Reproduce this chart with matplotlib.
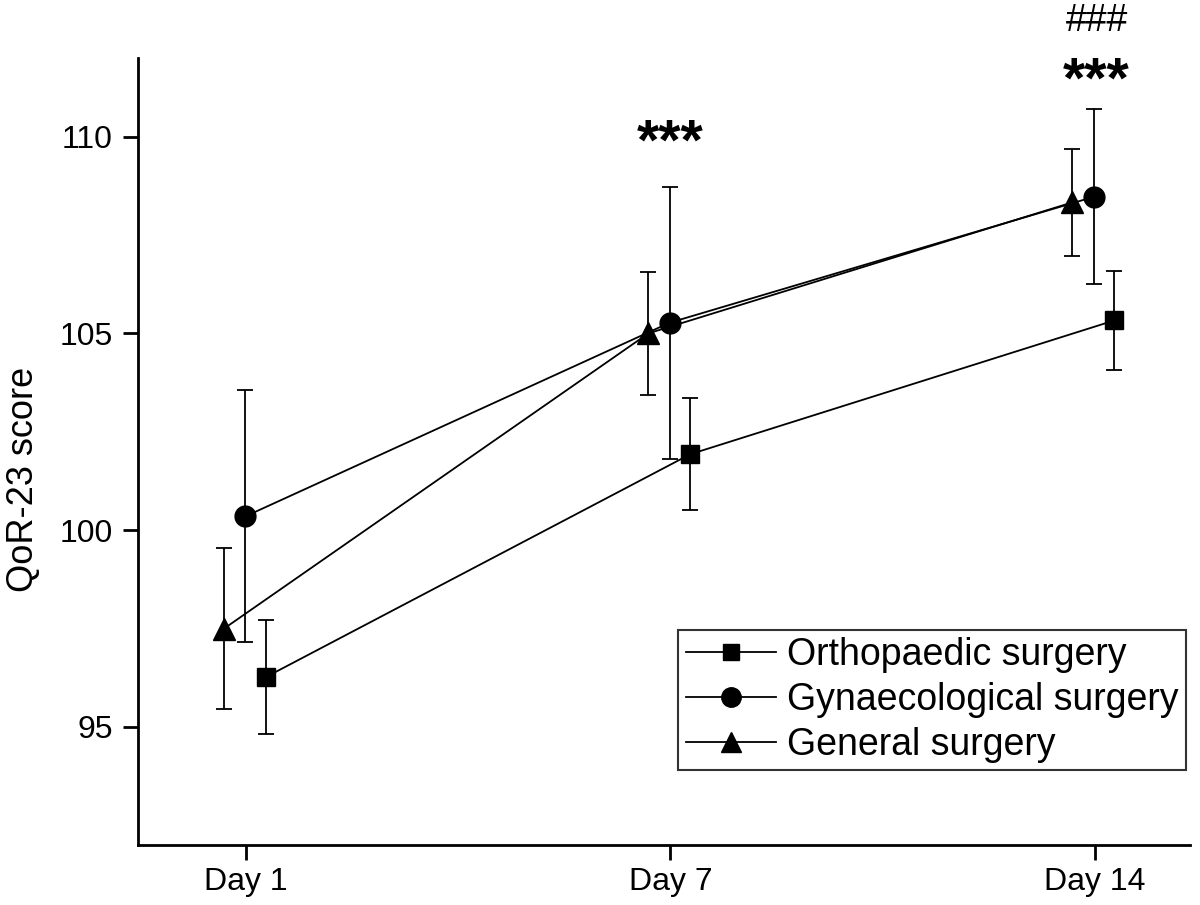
import matplotlib.pyplot as plt
from matplotlib.lines import Line2D
import numpy as np

plt.rcParams['font.family'] = ['Liberation Sans', 'DejaVu Sans']

# Data
days = ["Day 1", "Day 7", "Day 14"]

ortho_mean = [96.27, 101.93, 105.33]
ortho_err = [1.45, 1.43, 1.25]

gyn_mean = [100.35, 105.27, 108.47]
gyn_err = [3.2, 3.46, 2.22]

gen_mean = [97.5, 105.0, 108.33]
gen_err = [2.04, 1.56, 1.36]

labels = ["Orthopaedic surgery", "Gynaecological surgery", "General surgery"]

x = np.arange(len(days))

fig = plt.figure(figsize=(12, 9.05), dpi=100)
ax = fig.add_axes([0.115, 0.0663, 0.877, 0.8697])

common = dict(color='black', linewidth=1.3, elinewidth=1.3, capsize=5.5, capthick=1.3)

ax.errorbar(x + 0.047, ortho_mean, yerr=ortho_err, marker='s', markersize=13, **common)
ax.errorbar(x - 0.002, gyn_mean, yerr=gyn_err, marker='o', markersize=15, **common)
ax.errorbar(x - 0.052, gen_mean, yerr=gen_err, marker='^', markersize=16, **common)

# significance marks
ax.text(1, 109.41, "***", ha='center', va='baseline', fontsize=41, fontweight='bold')
ax.text(2.005, 110.99, "***", ha='center', va='baseline', fontsize=41, fontweight='bold')
ax.text(2.005, 112.69, "###", ha='center', va='baseline', fontsize=27, clip_on=False)

ax.set_xlim(-0.255, 2.226)
ax.set_ylim(92, 112)
ax.set_xticks(x)
ax.set_xticklabels(days)
ax.set_yticks([95, 100, 105, 110])

for s in ['top', 'right']:
    ax.spines[s].set_visible(False)
for s in ['left', 'bottom']:
    ax.spines[s].set_linewidth(2)

ax.tick_params(axis='both', direction='out', length=11, width=2, labelsize=23)
ax.tick_params(axis='x', pad=5)
ax.tick_params(axis='y', pad=7)
ax.set_ylabel("QoR-23 score", fontsize=26)
ax.yaxis.set_label_coords(-0.092, 0.465)

handles = [Line2D([], [], color='black', linewidth=1.3, marker='s', markersize=12),
           Line2D([], [], color='black', linewidth=1.3, marker='o', markersize=14),
           Line2D([], [], color='black', linewidth=1.3, marker='^', markersize=15)]
leg = ax.legend(handles, labels, loc='lower right', bbox_to_anchor=(0.996, 0.095), fontsize=27,
                frameon=True, fancybox=False, edgecolor='black', borderpad=0.2,
                handlelength=2.4, handletextpad=0.3, labelspacing=0.23, borderaxespad=0)
leg.get_frame().set_linewidth(1.5)

plt.savefig('out.png')
